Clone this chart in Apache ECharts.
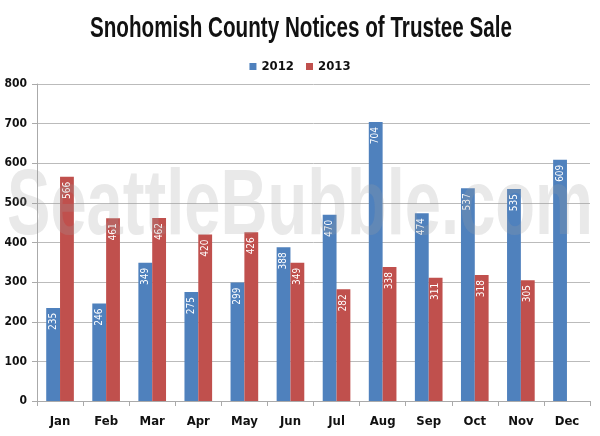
<!DOCTYPE html>
<html><head><meta charset="utf-8">
<script src="https://cdn.jsdelivr.net/npm/echarts@6/dist/echarts.min.js"></script>
<style>html,body{margin:0;padding:0;background:#fff}#c{width:600px;height:436px}</style>
</head><body><div id="c"></div>
<script>
const categories = ['Jan','Feb','Mar','Apr','May','Jun','Jul','Aug','Sep','Oct','Nov','Dec'];
const s2012 = [235,246,349,275,299,388,470,704,474,537,535,609];
const s2013 = [566,461,462,420,426,349,282,338,311,318,305,null];
const titleText = 'Snohomish County Notices of Trustee Sale';
const watermark = 'SeattleBubble.com';

const cv = document.createElement('canvas').getContext('2d');
function has(f){
  const t='abcdefghijklmnopqrstuvwxyz0123456789';
  cv.font='bold 40px monospace'; const a=cv.measureText(t).width;
  cv.font='bold 40px "'+f+'",monospace'; const b=cv.measureText(t).width;
  return a!==b;
}
const NARROW = ['Liberation Sans Narrow','DejaVu Sans Condensed','Roboto Condensed'].find(has) || 'Liberation Sans';
const NF = '"'+NARROW+'","Liberation Sans",sans-serif';
function widthOf(txt, font){ cv.font=font; return cv.measureText(txt).width; }
const titleFont = 'bold 30px "Liberation Sans"';
const titleScale = 422 / widthOf(titleText, titleFont);
const wmFont = 'bold 93px "Liberation Sans"';
const wmScale = 586 / widthOf(watermark, wmFont);

const chart = echarts.init(document.getElementById('c'));
const lbl = {show:true, position:'insideTop', rotate:90, align:'right', verticalAlign:'middle', distance:5, color:'#fff', fontSize:10, fontFamily:NF};
chart.setOption({
  animation:false,
  legend:{top:55,left:'center',itemWidth:7,itemHeight:7,itemGap:12,icon:'rect',textStyle:{fontFamily:NF,fontWeight:'bold',fontSize:13,color:'#111'}},
  graphic:[
    {type:'text',x:301,y:29,scaleX:titleScale,silent:true,style:{text:titleText,font:titleFont,fill:'#111',align:'center',verticalAlign:'middle'}},
    {type:'text',x:7,y:208,scaleX:wmScale,z:100,silent:true,style:{text:watermark,font:wmFont,fill:'rgba(160,160,160,0.23)',align:'left',verticalAlign:'middle'}}
  ],
  grid:{left:37,right:10,top:84,bottom:35},
  xAxis:{type:'category',data:categories,axisLine:{lineStyle:{color:'#aaa'}},axisTick:{show:true,length:5,lineStyle:{color:'#aaa'}},
    axisLabel:{margin:14,fontFamily:NF,fontWeight:'bold',fontSize:13,color:'#111'}},
  yAxis:{type:'value',min:0,max:800,interval:100,axisLine:{show:true,lineStyle:{color:'#aaa'}},axisTick:{show:true,length:5,lineStyle:{color:'#aaa'}},
    splitLine:{lineStyle:{color:'#bbb'}},axisLabel:{margin:10,fontFamily:NF,fontWeight:'bold',fontSize:12,color:'#111'}},
  series:[
    {name:'2012',type:'bar',data:s2012,barGap:'0%',barCategoryGap:'40%',itemStyle:{color:'#4f81bd'},label:lbl},
    {name:'2013',type:'bar',data:s2013,itemStyle:{color:'#c0504d'},label:lbl}
  ]
});
</script></body></html>
